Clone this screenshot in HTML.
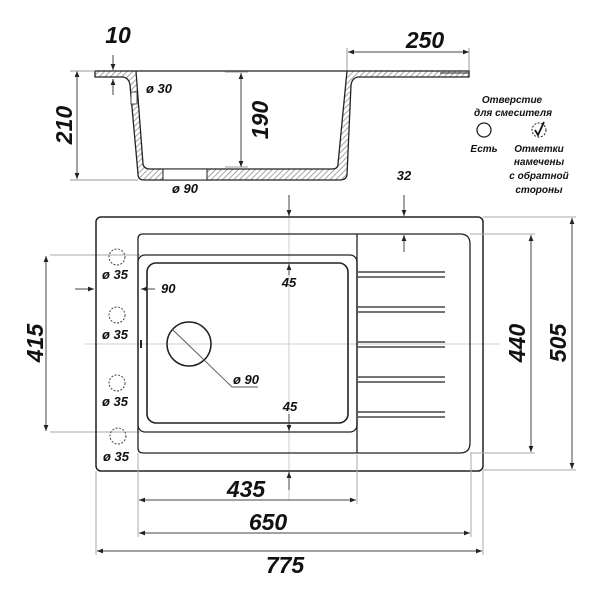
<!DOCTYPE html>
<html><head><meta charset="utf-8"><style>
html,body{margin:0;padding:0;background:#fff}
svg{display:block}
text{font-family:"Liberation Sans","DejaVu Sans",sans-serif;font-weight:bold;font-style:italic;fill:#111}
.b{font-size:23px}
.s{font-size:13px}
.r{font-size:10px}
</style></head><body>
<svg width="600" height="600" viewBox="0 0 600 600" xmlns="http://www.w3.org/2000/svg">
<defs>
<pattern id="h" width="4" height="4" patternUnits="userSpaceOnUse" patternTransform="rotate(45)">
<rect width="4" height="4" fill="#fff"/><line x1="0" y1="0" x2="0" y2="4" stroke="#888" stroke-width="1.5"/></pattern>
<marker id="a" viewBox="0 0 10 10" refX="10" refY="5" markerWidth="6" markerHeight="6" orient="auto-start-reverse"><path d="M0,1 L10,5 L0,9z" fill="#222"/></marker>
</defs>
<!-- profile -->
<path d="M95,71 L469,71 L469,77 L358,77 Q352,78 351,85 L347,175 Q346,180 340,180 L144,180 Q138,180 138,174 L130,85 Q129,78 123,77 L95,77 Z M136,71 L143,164 Q144,169 150,169 L332,169 Q338,169 338,164 L347,71 Z" fill="url(#h)" fill-rule="evenodd" stroke="#222" stroke-width="1.3"/>
<rect x="163" y="169" width="44" height="11" fill="#fff" stroke="#222" stroke-width="1"/>
<rect x="131" y="92" width="6" height="12" fill="#fff" stroke="#222" stroke-width="0.8"/>
<line x1="440" y1="73" x2="469" y2="73" stroke="#222"/>
<!-- profile dims -->
<line x1="77" y1="71" x2="77" y2="179" stroke="#444" marker-start="url(#a)" marker-end="url(#a)"/>
<line x1="70" y1="71" x2="95" y2="71" stroke="#999"/><line x1="70" y1="180" x2="138" y2="180" stroke="#999"/>
<text class="b" transform="translate(72,125) rotate(-90)" text-anchor="middle">210</text>
<line x1="241" y1="73" x2="241" y2="167" stroke="#444" marker-start="url(#a)" marker-end="url(#a)"/>
<line x1="225" y1="72" x2="248" y2="72" stroke="#999"/><line x1="225" y1="167" x2="248" y2="167" stroke="#999"/>
<text class="b" transform="translate(268,120) rotate(-90)" text-anchor="middle">190</text>
<line x1="348" y1="52" x2="469" y2="52" stroke="#444" marker-start="url(#a)" marker-end="url(#a)"/>
<line x1="347" y1="48" x2="347" y2="70" stroke="#999"/><line x1="469" y1="48" x2="469" y2="70" stroke="#999"/>
<text class="b" x="425" y="48" text-anchor="middle">250</text>
<text class="b" x="118" y="43" text-anchor="middle">10</text>
<line x1="113" y1="55" x2="113" y2="70" stroke="#444" marker-end="url(#a)"/>
<line x1="113" y1="95" x2="113" y2="79" stroke="#444" marker-end="url(#a)"/>
<text class="s" x="146" y="93">ø 30</text>
<text class="s" x="172" y="193">ø 90</text>
<!-- legend -->
<text class="r" x="512" y="103" text-anchor="middle">Отверстие</text>
<text class="r" x="513" y="116" text-anchor="middle">для смесителя</text>
<circle cx="484" cy="130" r="7" fill="none" stroke="#222" stroke-width="1.3"/>
<circle cx="539" cy="130" r="7" fill="none" stroke="#222" stroke-width="1" stroke-dasharray="2,1.5"/>
<path d="M535,130 L538,135 L544,122" fill="none" stroke="#111" stroke-width="1.8"/>
<text class="r" x="484" y="152" text-anchor="middle">Есть</text>
<text class="r" x="539" y="152" text-anchor="middle">Отметки</text>
<text class="r" x="539" y="165" text-anchor="middle">намечены</text>
<text class="r" x="539" y="179" text-anchor="middle">с обратной</text>
<text class="r" x="539" y="193" text-anchor="middle">стороны</text>
<text class="s" x="404" y="180" text-anchor="middle">32</text>
<!-- center lines -->
<line x1="85" y1="344" x2="500" y2="344" stroke="#ccc"/>
<line x1="289" y1="200" x2="289" y2="500" stroke="#ccc"/>
<line x1="50" y1="255" x2="140" y2="255" stroke="#aaa"/>
<line x1="50" y1="432" x2="140" y2="432" stroke="#aaa"/>
<!-- plan -->
<rect x="96" y="217" width="387" height="254" rx="5" fill="none" stroke="#222" stroke-width="1.5"/>
<path d="M143,234 L460,234 Q470,234 470,244 L470,443 Q470,453 460,453 L143,453 Q138,453 138,448 L138,239 Q138,234 143,234Z" fill="none" stroke="#222" stroke-width="1.3"/>
<line x1="357" y1="234" x2="357" y2="453" stroke="#222" stroke-width="1.3"/>
<rect x="138" y="255" width="219" height="177" rx="7" fill="none" stroke="#222" stroke-width="1.3"/>
<rect x="147" y="263" width="201" height="160" rx="9" fill="none" stroke="#222" stroke-width="1.6"/>
<g stroke="#222" stroke-width="1.2">
<line x1="358" y1="272" x2="445" y2="272"/><line x1="358" y1="277" x2="445" y2="277"/>
<line x1="358" y1="307" x2="445" y2="307"/><line x1="358" y1="312" x2="445" y2="312"/>
<line x1="358" y1="342" x2="445" y2="342"/><line x1="358" y1="347" x2="445" y2="347"/>
<line x1="358" y1="377" x2="445" y2="377"/><line x1="358" y1="382" x2="445" y2="382"/>
<line x1="358" y1="412" x2="445" y2="412"/><line x1="358" y1="417" x2="445" y2="417"/>
<line x1="141" y1="340" x2="141" y2="348" stroke-width="2"/>
</g>
<circle cx="189" cy="344" r="22" fill="none" stroke="#222" stroke-width="1.5"/>
<polyline points="172,329 232,387 258,387" fill="none" stroke="#555" stroke-width="0.9"/>
<text class="s" x="233" y="384">ø 90</text>
<g fill="none" stroke="#444" stroke-width="1" stroke-dasharray="2,1.5">
<circle cx="117" cy="257" r="8"/><circle cx="117" cy="315" r="8"/><circle cx="117" cy="383" r="8"/><circle cx="118" cy="436" r="8"/>
</g>
<text class="s" x="102" y="279">ø 35</text>
<text class="s" x="102" y="339">ø 35</text>
<text class="s" x="102" y="406">ø 35</text>
<text class="s" x="103" y="461">ø 35</text>
<line x1="75" y1="289" x2="94" y2="289" stroke="#444" marker-end="url(#a)"/>
<line x1="155" y1="289" x2="141" y2="289" stroke="#444" marker-end="url(#a)"/>
<text class="s" x="161" y="293">90</text>
<text class="s" x="289" y="287" text-anchor="middle">45</text>
<text class="s" x="290" y="411" text-anchor="middle">45</text>
<line x1="289" y1="195" x2="289" y2="216" stroke="#444" marker-end="url(#a)"/>
<line x1="289" y1="275" x2="289" y2="264" stroke="#444" marker-end="url(#a)"/>
<line x1="289" y1="414" x2="289" y2="431" stroke="#444" marker-end="url(#a)"/>
<line x1="289" y1="490" x2="289" y2="472" stroke="#444" marker-end="url(#a)"/>
<line x1="404" y1="195" x2="404" y2="216" stroke="#444" marker-end="url(#a)"/>
<line x1="404" y1="252" x2="404" y2="235" stroke="#444" marker-end="url(#a)"/>
<!-- side dims -->
<line x1="46" y1="256" x2="46" y2="431" stroke="#444" marker-start="url(#a)" marker-end="url(#a)"/>
<text class="b" transform="translate(43,343) rotate(-90)" text-anchor="middle">415</text>
<line x1="470" y1="234" x2="535" y2="234" stroke="#aaa"/><line x1="470" y1="453" x2="535" y2="453" stroke="#aaa"/>
<line x1="531" y1="235" x2="531" y2="452" stroke="#444" marker-start="url(#a)" marker-end="url(#a)"/>
<text class="b" transform="translate(525,343) rotate(-90)" text-anchor="middle">440</text>
<line x1="483" y1="217" x2="576" y2="217" stroke="#aaa"/><line x1="483" y1="470" x2="576" y2="470" stroke="#aaa"/>
<line x1="572" y1="218" x2="572" y2="469" stroke="#444" marker-start="url(#a)" marker-end="url(#a)"/>
<text class="b" transform="translate(566,343) rotate(-90)" text-anchor="middle">505</text>
<!-- bottom dims -->
<line x1="138" y1="453" x2="138" y2="537" stroke="#aaa"/><line x1="357" y1="453" x2="357" y2="504" stroke="#aaa"/>
<line x1="471" y1="453" x2="471" y2="537" stroke="#aaa"/>
<line x1="96" y1="471" x2="96" y2="555" stroke="#aaa"/><line x1="483" y1="471" x2="483" y2="555" stroke="#aaa"/>
<line x1="139" y1="500" x2="356" y2="500" stroke="#444" marker-start="url(#a)" marker-end="url(#a)"/>
<text class="b" x="246" y="497" text-anchor="middle">435</text>
<line x1="139" y1="533" x2="470" y2="533" stroke="#444" marker-start="url(#a)" marker-end="url(#a)"/>
<text class="b" x="268" y="530" text-anchor="middle">650</text>
<line x1="97" y1="551" x2="482" y2="551" stroke="#444" marker-start="url(#a)" marker-end="url(#a)"/>
<text class="b" x="285" y="573" text-anchor="middle">775</text>
</svg>
</body></html>
